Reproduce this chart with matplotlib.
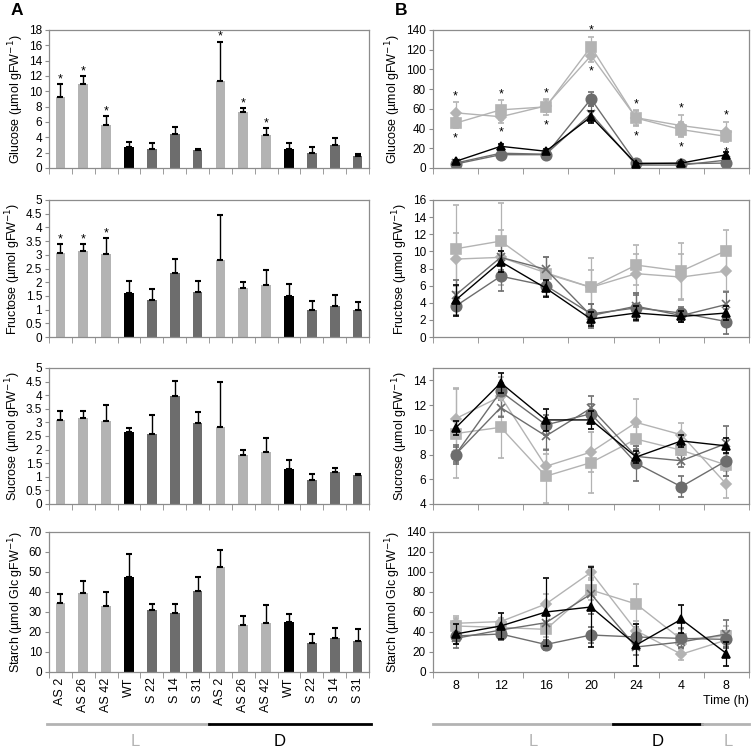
import numpy as np
import matplotlib
matplotlib.use('Agg')
import matplotlib.pyplot as plt
from matplotlib.lines import Line2D

plt.rcParams['font.family'] = ['Liberation Sans', 'DejaVu Sans']

# ---- data, panel A (bars) ----
lines = ['AS 2', 'AS 26', 'AS 42', 'WT', 'S 22', 'S 14', 'S 31',
         'AS 2', 'AS 26', 'AS 42', 'WT', 'S 22', 'S 14', 'S 31']
glc_a = [9.3, 10.9, 5.6, 2.7, 2.5, 4.4, 2.3, 11.4, 7.3, 4.3, 2.5, 1.95, 3.0, 1.6]
glc_a_err = [1.65, 1.1, 1.15, 0.7, 0.8, 0.9, 0.17, 5.1, 0.55, 0.95, 0.75, 0.78, 0.95, 0.26]
fru_a = [3.05, 3.13, 3.04, 1.59, 1.34, 2.35, 1.66, 2.82, 1.78, 1.89, 1.48, 0.98, 1.12, 0.98]
fru_a_err = [0.36, 0.28, 0.57, 0.47, 0.43, 0.48, 0.39, 1.64, 0.21, 0.56, 0.45, 0.32, 0.42, 0.30]
suc_a = [3.07, 3.15, 3.04, 2.64, 2.59, 3.97, 2.98, 2.84, 1.80, 1.92, 1.27, 0.88, 1.17, 1.06]
suc_a_err = [0.36, 0.27, 0.60, 0.17, 0.69, 0.57, 0.41, 1.63, 0.20, 0.52, 0.33, 0.21, 0.17, 0.04]
sta_a = [34.3, 39.7, 32.8, 47.4, 31.0, 29.5, 40.7, 52.3, 23.5, 24.5, 25.0, 14.6, 17.1, 15.7]
sta_a_err = [4.6, 5.7, 7.1, 11.6, 2.8, 4.3, 6.9, 8.7, 4.3, 9.0, 3.8, 4.5, 4.7, 5.7]
glc_star = [1, 1, 1, 0, 0, 0, 0, 1, 1, 1, 0, 0, 0, 0]
fru_star = [1, 1, 1, 0, 0, 0, 0, 0, 0, 0, 0, 0, 0, 0]

# ---- data, panel B (time course) ----
times = ['8', '12', '16', '20', '24', '4', '8']
series = ['AS diamond', 'AS square', 'WT', 'S circle', 'S cross']

glc_b = {
    'AS diamond': ([56, 52, 63, 114, 51, 43, 37], [11, 6, 6, 6, 7, 11, 10]),
    'AS square': ([45.5, 59, 62, 123, 50.6, 39, 32], [5, 10, 8, 10, 8, 8, 6]),
    'WT': ([6.7, 22, 17, 52, 4.4, 5, 13.5], [1, 2, 2, 6, 1, 1, 3]),
    'S circle': ([4, 13.5, 13.5, 70, 5, 4.4, 5], [1, 2, 3, 7, 1, 1, 2]),
    'S cross': ([5, 15, 14, 55, 3, 3, 8], [1, 2, 3, 8, 1, 1, 2]),
}
fru_b = {
    'AS diamond': ([9.1, 9.3, 7.5, 5.8, 7.4, 7.0, 7.7], [3.1, 3.2, 1.8, 2.0, 2.3, 2.7, 2.3]),
    'AS square': ([10.3, 11.2, 7.4, 5.8, 8.4, 7.7, 10.1], [5.1, 4.4, 2.0, 3.4, 2.3, 3.3, 2.4]),
    'WT': ([4.3, 8.8, 5.7, 2.1, 2.8, 2.4, 2.8], [1.8, 1.2, 1.0, 0.8, 0.8, 0.6, 0.8]),
    'S circle': ([3.6, 7.1, 6.0, 2.7, 3.4, 2.8, 1.8], [1.0, 1.7, 1.2, 1.2, 1.5, 0.7, 1.5]),
    'S cross': ([4.9, 9.3, 7.9, 2.5, 3.6, 2.5, 3.8], [1.8, 1.5, 1.4, 1.4, 1.5, 0.8, 1.5]),
}
suc_b = {
    'AS diamond': ([10.9, 12.7, 7.05, 8.2, 10.6, 9.6, 5.6], [2.5, 1.6, 1.0, 1.6, 1.9, 0.95, 1.1]),
    'AS square': ([9.7, 10.2, 6.25, 7.35, 9.25, 8.35, 7.15], [3.6, 2.5, 2.2, 2.5, 1.0, 1.0, 0.9]),
    'WT': ([10.15, 13.8, 10.8, 10.8, 7.8, 9.1, 8.7], [0.6, 0.8, 0.9, 0.7, 0.5, 0.5, 0.6]),
    'S circle': ([8.0, 13.1, 10.4, 11.3, 7.3, 5.4, 7.5], [0.8, 0.7, 0.8, 0.8, 1.4, 0.85, 1.2]),
    'S cross': ([8.0, 11.8, 9.5, 11.75, 7.85, 7.5, 8.9], [0.6, 0.8, 1.1, 1.0, 0.6, 0.5, 1.4]),
}
sta_b = {
    'AS diamond': ([48.7, 50.4, 68, 99.7, 41.3, 17.8, 32], [5, 4, 10, 6, 10, 6, 8]),
    'AS square': ([46, 44.6, 42.6, 82, 68, 32.6, 36], [10, 6, 8, 10, 20, 10, 10]),
    'WT': ([38, 46, 60, 65, 27, 52.7, 18.5], [10, 13, 34, 40, 21, 14, 12]),
    'S circle': ([36, 38, 27.5, 37, 35, 33.6, 32.6], [8, 6, 5, 8, 10, 10, 8]),
    'S cross': ([33.6, 42, 49.3, 78, 25, 30, 38], [10, 10, 10, 20, 8, 5, 14]),
}

LIGHT = '#b3b3b3'
DARK = '#6d6d6d'
SPINE = '#8c8c8c'
bar_colors = [LIGHT] * 3 + ['black'] + [DARK] * 3 + [LIGHT] * 3 + ['black'] + [DARK] * 3
style = {
    'AS diamond': dict(color=LIGHT, marker='D', ms=5),
    'AS square': dict(color=LIGHT, marker='s', ms=7),
    'WT': dict(color='black', marker='^', ms=6),
    'S circle': dict(color=DARK, marker='o', ms=7.5),
    'S cross': dict(color=DARK, marker='x', ms=6),
}

fig = plt.figure(figsize=(7.52, 7.48), dpi=100)
W, H = 752, 748


def rect(l, t, r, b):
    return [l / W, 1 - b / H, (r - l) / W, (b - t) / H]


rows = [(30, 168), (200, 337), (368, 504), (532, 672)]


def style_axes(ax, n):
    for s in ax.spines.values():
        s.set_color(SPINE)
        s.set_linewidth(0.9)
    ax.set_xlim(-0.5, n - 0.5)
    ax.set_xticks(np.arange(n + 1) - 0.5, minor=True)
    ax.set_xticks(np.arange(n))
    ax.tick_params(axis='x', which='major', length=0, labelbottom=False)
    ax.tick_params(axis='x', which='minor', length=4, color=SPINE, direction='out')
    ax.tick_params(axis='y', length=3, color=SPINE, labelsize=8.5, pad=2)


def fmt(v):
    return ('%g' % v)


# ---- panel A ----
a_data = [(glc_a, glc_a_err, glc_star, 18, 2, 'Glucose (µmol gFW$^{-1}$)'),
          (fru_a, fru_a_err, fru_star, 5, 0.5, 'Fructose (µmol gFW$^{-1}$)'),
          (suc_a, suc_a_err, None, 5, 0.5, 'Sucrose (µmol gFW$^{-1}$)'),
          (sta_a, sta_a_err, None, 70, 10, 'Starch (µmol Glc gFW$^{-1}$)')]
x = np.arange(len(lines))
for i, (vals, err, stars, ymax, step, lab) in enumerate(a_data):
    t, b = rows[i]
    ax = fig.add_axes(rect(49, t, 369, b))
    ax.bar(x, vals, width=0.42, color=bar_colors, zorder=2)
    ax.errorbar(x, vals, yerr=[np.zeros(len(vals)), err], fmt='none',
                ecolor='black', elinewidth=1, capsize=2.2, capthick=1.5, zorder=3)
    ax.set_ylim(0, ymax)
    yt = np.arange(0, ymax + step / 2, step)
    ax.set_yticks(yt)
    ax.set_yticklabels([fmt(v) for v in yt])
    style_axes(ax, len(lines))
    ax.set_ylabel(lab, fontsize=9, labelpad=2)
    if stars:
        for xi, v, e, s in zip(x, vals, err, stars):
            if s:
                ax.annotate('*', (xi, v + e), xytext=(0, -1), textcoords='offset points',
                            ha='center', va='bottom', fontsize=9)
    if i == 3:
        ax.tick_params(axis='x', which='major', labelbottom=True, labelsize=9, pad=4)
        ax.set_xticklabels(lines, rotation=90)
    if i == 0:
        ax.text(-0.12, 1.09, 'A', transform=ax.transAxes, fontsize=12.5,
                fontweight='bold', va='bottom', ha='left')

# ---- panel B ----
b_data = [(glc_b, 0, 140, 20, 'Glucose (µmol gFW$^{-1}$)'),
          (fru_b, 0, 16, 2, 'Fructose (µmol gFW$^{-1}$)'),
          (suc_b, 4, 15, 2, 'Sucrose (µmol gFW$^{-1}$)'),
          (sta_b, 0, 140, 20, 'Starch (µmol Glc gFW$^{-1}$)')]
xt = np.arange(len(times))
for i, (d, ymin, ymax, step, lab) in enumerate(b_data):
    t, b = rows[i]
    ax = fig.add_axes(rect(433, t, 749, b))
    for name in series:
        m, e = d[name]
        st = style[name]
        ax.errorbar(xt, m, yerr=e, color=st['color'], marker=st['marker'],
                    ms=st['ms'], mew=1.2, lw=1, elinewidth=0.9, capsize=2, capthick=0.9,
                    zorder=3 if name == 'WT' else 2)
    ax.set_ylim(ymin, ymax)
    yt = np.arange(ymin, ymax + 0.01, step)
    yt = yt[yt <= ymax]
    ax.set_yticks(yt)
    ax.set_yticklabels([fmt(v) for v in yt])
    style_axes(ax, len(times))
    ax.set_ylabel(lab, fontsize=9, labelpad=2)
    if i == 0:
        # significance stars above/below the AS lines
        tops = np.max([np.add(*d[n]) for n in ['AS diamond', 'AS square']], axis=0)
        bots = np.min([np.subtract(*d[n]) for n in ['AS diamond', 'AS square']], axis=0)
        for xi, tp, bt in zip(xt, tops, bots):
            ax.annotate('*', (xi, tp), xytext=(0, 0), textcoords='offset points',
                        ha='center', va='bottom', fontsize=9)
            ax.annotate('*', (xi, bt), xytext=(0, -3), textcoords='offset points',
                        ha='center', va='top', fontsize=9)
        ax.text(-0.12, 1.09, 'B', transform=ax.transAxes, fontsize=12.5,
                fontweight='bold', va='bottom', ha='left')
    if i == 3:
        ax.tick_params(axis='x', which='major', labelbottom=True, labelsize=9, pad=6)
        ax.set_xticklabels(times)

fig.text(749 / W, 1 - 701 / H, 'Time (h)', ha='right', va='center', fontsize=9)

# light / dark bars under the panels
y_bar = 1 - 724 / H
y_txt = 1 - 741 / H
fig.add_artist(Line2D([47 / W, 209 / W], [y_bar, y_bar], color=LIGHT, lw=2))
fig.add_artist(Line2D([209 / W, 371 / W], [y_bar, y_bar], color='black', lw=2))
fig.text(135 / W, y_txt, 'L', color=LIGHT, ha='center', va='center', fontsize=12)
fig.text(280 / W, y_txt, 'D', color='black', ha='center', va='center', fontsize=12)

fig.add_artist(Line2D([433 / W, 613 / W], [y_bar, y_bar], color=LIGHT, lw=2))
fig.add_artist(Line2D([613 / W, 702 / W], [y_bar, y_bar], color='black', lw=2))
fig.add_artist(Line2D([702 / W, 749 / W], [y_bar, y_bar], color=LIGHT, lw=2))
fig.text(533 / W, y_txt, 'L', color=LIGHT, ha='center', va='center', fontsize=12)
fig.text(658 / W, y_txt, 'D', color='black', ha='center', va='center', fontsize=12)
fig.text(728 / W, y_txt, 'L', color=LIGHT, ha='center', va='center', fontsize=12)

fig.savefig('out.png', dpi=100)
